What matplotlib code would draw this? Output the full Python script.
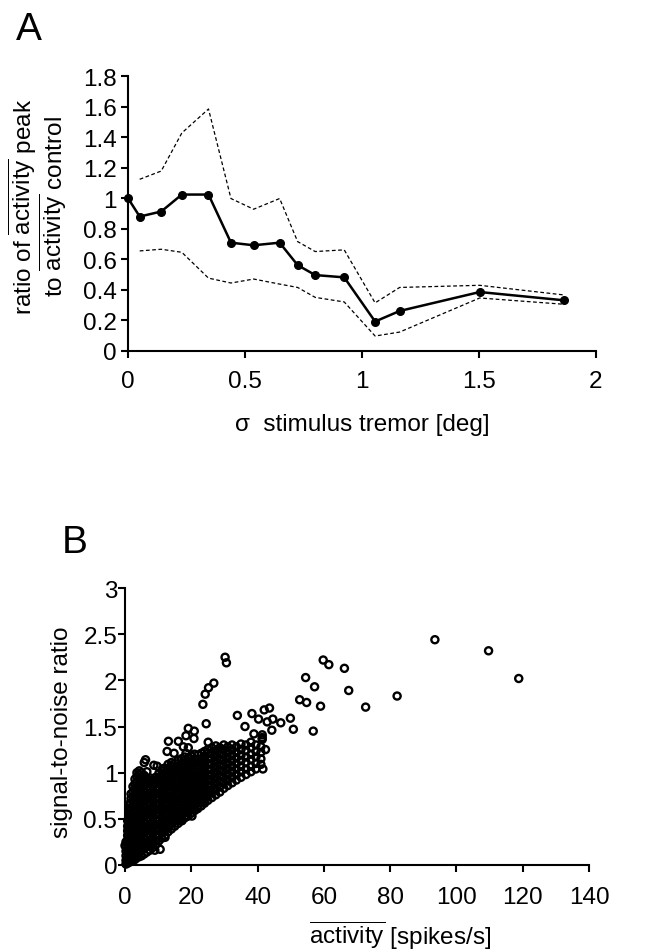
import numpy as np
import matplotlib
matplotlib.use("Agg")
import matplotlib.pyplot as plt

plt.rcParams['font.family'] = ['Liberation Sans', 'DejaVu Sans']
plt.rcParams['mathtext.fontset'] = 'custom'
plt.rcParams['mathtext.rm'] = 'Liberation Sans'
plt.rcParams['mathtext.it'] = 'Liberation Sans:italic'
plt.rcParams['mathtext.bf'] = 'Liberation Sans:bold'

# ---------------- Panel A data ----------------
sigma_mean = [0.0, 0.05, 0.142, 0.23, 0.344, 0.44, 0.537, 0.648, 0.725, 0.80, 0.924, 1.056, 1.161, 1.503, 1.862]
ratio_mean = [1.0, 0.88, 0.913, 1.024, 1.024, 0.709, 0.692, 0.709, 0.562, 0.497, 0.482, 0.193, 0.262, 0.386, 0.332]
sigma_ci = [0.05, 0.142, 0.23, 0.344, 0.44, 0.537, 0.648, 0.725, 0.80, 0.924, 1.056, 1.161, 1.503, 1.862]
ratio_upper = [1.124, 1.178, 1.427, 1.584, 0.998, 0.928, 0.998, 0.716, 0.651, 0.662, 0.315, 0.416, 0.43, 0.367]
ratio_lower = [0.655, 0.666, 0.646, 0.477, 0.445, 0.471, 0.438, 0.416, 0.351, 0.321, 0.098, 0.124, 0.347, 0.306]
a_xticks = [0, 0.5, 1, 1.5, 2]
a_xticklabels = ['0', '0.5', '1', '1.5', '2']
a_yticks = [0, 0.2, 0.4, 0.6, 0.8, 1.0, 1.2, 1.4, 1.6, 1.8]
a_yticklabels = ['0', '0.2', '0.4', '0.6', '0.8', '1', '1.2', '1.4', '1.6', '1.8']

# ---------------- Panel B data ----------------
# dense cloud, estimated column by column (activity value, list of SNR values)
cloud_x = [0.3, 0.8, 1.3, 1.8, 2.4, 3.0, 3.6, 4.3, 5.0, 5.8, 6.6, 7.5, 8.4, 9.3, 10.2, 11.1,
           12.0, 13.0, 14.0, 15.0, 16.0, 17.0, 18.0, 19.0, 20.0, 21.0, 22.0, 23.0, 24.0, 25.0,
           26.2, 27.4, 28.6, 29.8, 31.0, 32.3, 33.6, 35.0, 36.5, 38.0, 39.5, 41.0]
cloud_y = [
    [0.01, 0.05, 0.10, 0.15, 0.20, 0.25],
    [0.02, 0.07, 0.12, 0.17, 0.22, 0.27, 0.32, 0.37, 0.42, 0.48],
    [0.03, 0.08, 0.13, 0.18, 0.24, 0.29, 0.34, 0.39, 0.44, 0.50, 0.55, 0.60, 0.66],
    [0.04, 0.09, 0.14, 0.19, 0.25, 0.30, 0.35, 0.41, 0.46, 0.51, 0.56, 0.62, 0.67, 0.72, 0.77],
    [0.05, 0.10, 0.15, 0.21, 0.26, 0.31, 0.37, 0.42, 0.47, 0.53, 0.58, 0.63, 0.69, 0.74, 0.79, 0.85],
    [0.06, 0.11, 0.17, 0.22, 0.28, 0.33, 0.39, 0.44, 0.50, 0.55, 0.61, 0.66, 0.72, 0.77, 0.83, 0.88, 0.93],
    [0.08, 0.13, 0.19, 0.24, 0.30, 0.35, 0.41, 0.46, 0.52, 0.57, 0.63, 0.68, 0.74, 0.79, 0.85, 0.90, 0.96, 1.00],
    [0.09, 0.14, 0.20, 0.26, 0.31, 0.37, 0.42, 0.48, 0.54, 0.59, 0.65, 0.70, 0.76, 0.82, 0.87, 0.93, 0.98, 1.02],
    [0.10, 0.16, 0.21, 0.27, 0.33, 0.38, 0.44, 0.50, 0.55, 0.61, 0.67, 0.72, 0.78, 0.84, 0.89, 0.95, 1.00],
    [0.12, 0.18, 0.23, 0.29, 0.35, 0.40, 0.46, 0.52, 0.57, 0.63, 0.69, 0.74, 0.80, 0.86, 0.91, 0.97],
    [0.14, 0.20, 0.25, 0.31, 0.37, 0.42, 0.48, 0.54, 0.59, 0.65, 0.71, 0.76, 0.82, 0.88, 0.93],
    [0.16, 0.22, 0.27, 0.33, 0.39, 0.44, 0.50, 0.56, 0.61, 0.67, 0.73, 0.78, 0.84, 0.90],
    [0.19, 0.24, 0.30, 0.36, 0.41, 0.47, 0.53, 0.58, 0.64, 0.70, 0.75, 0.81, 0.87, 0.92],
    [0.22, 0.27, 0.33, 0.39, 0.44, 0.50, 0.56, 0.61, 0.67, 0.73, 0.78, 0.84, 0.90, 0.95],
    [0.26, 0.31, 0.37, 0.43, 0.48, 0.54, 0.60, 0.65, 0.71, 0.77, 0.82, 0.88, 0.94, 0.99],
    [0.29, 0.35, 0.40, 0.46, 0.52, 0.57, 0.63, 0.69, 0.74, 0.80, 0.86, 0.91, 0.97, 1.02],
    [0.32, 0.38, 0.44, 0.49, 0.55, 0.61, 0.66, 0.72, 0.78, 0.83, 0.89, 0.95, 1.00, 1.05],
    [0.36, 0.41, 0.47, 0.53, 0.58, 0.64, 0.70, 0.75, 0.81, 0.87, 0.92, 0.98, 1.04, 1.09],
    [0.39, 0.45, 0.50, 0.56, 0.62, 0.67, 0.73, 0.79, 0.84, 0.90, 0.96, 1.01, 1.07, 1.11],
    [0.42, 0.48, 0.53, 0.59, 0.65, 0.70, 0.76, 0.82, 0.87, 0.93, 0.99, 1.04, 1.10],
    [0.45, 0.51, 0.56, 0.62, 0.68, 0.73, 0.79, 0.85, 0.90, 0.96, 1.02, 1.07, 1.13],
    [0.48, 0.54, 0.59, 0.65, 0.71, 0.76, 0.82, 0.88, 0.93, 0.99, 1.05, 1.10, 1.15],
    [0.51, 0.56, 0.62, 0.68, 0.73, 0.79, 0.85, 0.90, 0.96, 1.02, 1.07, 1.13, 1.17],
    [0.53, 0.59, 0.65, 0.70, 0.76, 0.82, 0.87, 0.93, 0.99, 1.04, 1.10, 1.16],
    [0.56, 0.62, 0.67, 0.73, 0.79, 0.84, 0.90, 0.96, 1.01, 1.07, 1.13, 1.18],
    [0.59, 0.64, 0.70, 0.76, 0.81, 0.87, 0.93, 0.98, 1.04, 1.10, 1.15, 1.20],
    [0.62, 0.67, 0.73, 0.79, 0.84, 0.90, 0.96, 1.01, 1.07, 1.13, 1.19],
    [0.64, 0.70, 0.76, 0.81, 0.87, 0.93, 0.98, 1.04, 1.10, 1.15, 1.21],
    [0.67, 0.73, 0.78, 0.84, 0.90, 0.95, 1.01, 1.07, 1.12, 1.18, 1.23],
    [0.70, 0.76, 0.81, 0.87, 0.93, 0.98, 1.04, 1.10, 1.15, 1.21, 1.25],
    [0.73, 0.79, 0.85, 0.91, 0.97, 1.03, 1.09, 1.15, 1.21, 1.27],
    [0.76, 0.82, 0.88, 0.94, 1.00, 1.06, 1.12, 1.18, 1.24, 1.29],
    [0.79, 0.85, 0.91, 0.97, 1.03, 1.09, 1.15, 1.21, 1.27],
    [0.83, 0.89, 0.95, 1.01, 1.07, 1.13, 1.19, 1.25, 1.30],
    [0.86, 0.92, 0.98, 1.04, 1.10, 1.16, 1.22, 1.28],
    [0.89, 0.95, 1.01, 1.07, 1.13, 1.19, 1.25, 1.30],
    [0.92, 0.98, 1.04, 1.10, 1.16, 1.22, 1.28],
    [0.95, 1.01, 1.07, 1.13, 1.19, 1.25, 1.31],
    [0.98, 1.04, 1.11, 1.17, 1.24, 1.30],
    [1.01, 1.07, 1.14, 1.20, 1.27, 1.33],
    [1.04, 1.10, 1.17, 1.23, 1.30],
    [1.09, 1.15, 1.22, 1.28],
]
# individually readable cells
sparse_x = [93.5, 109.7, 118.8, 82.1, 72.6, 66.2, 67.5, 59.8, 61.5, 54.5, 57.2, 52.7, 54.8, 59.0,
            56.8, 49.9, 50.8, 47.0, 44.6, 43.6, 42.0, 42.9, 44.3, 40.3, 38.3, 33.9, 36.2, 38.9,
            41.4, 41.4, 41.4, 42.4, 41.6, 30.2, 30.6, 26.8, 25.2, 24.2, 23.5, 24.5, 19.1, 20.9,
            18.4, 20.8, 25.1, 13.1, 16.1, 17.6, 19.1, 12.7, 14.8, 18.4, 6.2, 5.8, 8.7, 9.7, 11.3,
            6.6, 9.9, 7.8, 21.9, 23.8, 18.8, 16.6, 9.0, 10.6, 12.1, 17.2, 20.2, 0.0]
sparse_y = [2.44, 2.32, 2.02, 1.83, 1.71, 2.13, 1.89, 2.22, 2.17, 2.03, 1.93, 1.79, 1.76, 1.72,
            1.45, 1.59, 1.47, 1.54, 1.58, 1.70, 1.68, 1.55, 1.46, 1.58, 1.64, 1.62, 1.50, 1.42,
            1.38, 1.41, 1.36, 1.25, 1.04, 2.25, 2.19, 1.97, 1.92, 1.85, 1.74, 1.53, 1.48, 1.45,
            1.40, 1.37, 1.33, 1.34, 1.34, 1.28, 1.27, 1.23, 1.21, 1.21, 1.14, 1.11, 1.08, 1.07, 1.04,
            1.01, 0.93, 0.94, 0.61, 0.69, 0.53, 0.49, 0.16, 0.17, 0.30, 0.48, 0.53, 0.21]
b_xticks = [0, 20, 40, 60, 80, 100, 120, 140]
b_yticks = [0, 0.5, 1.0, 1.5, 2.0, 2.5, 3.0]
b_yticklabels = ['0', '0.5', '1', '1.5', '2', '2.5', '3']

W, H = 658, 953
fig = plt.figure(figsize=(W / 100, H / 100), dpi=100)
fs = 17.5

def style(ax):
    for s in ('top', 'right'):
        ax.spines[s].set_visible(False)
    for s in ('left', 'bottom'):
        ax.spines[s].set_linewidth(1.5)

# ---------------- Panel A ----------------
axA = fig.add_axes([128 / W, 1 - 352 / H, 468 / W, 275 / H])
style(axA)
axA.plot(sigma_ci, ratio_upper, color='black', lw=0.9, ls=(0, (3, 2)))
axA.plot(sigma_ci, ratio_lower, color='black', lw=0.9, ls=(0, (3, 2)))
axA.plot(sigma_mean, ratio_mean, color='black', lw=1.8, marker='o', ms=5.5, clip_on=False)
axA.set_xlim(0, 2)
axA.set_ylim(0, 1.8)
axA.set_xticks(a_xticks)
axA.set_xticklabels(a_xticklabels)
axA.set_yticks(a_yticks)
axA.set_yticklabels(a_yticklabels)
axA.tick_params(axis='x', direction='out', length=5, width=1.5, labelsize=fs, pad=9)
axA.tick_params(axis='y', direction='out', length=5, width=1.5, labelsize=fs, pad=3)

fig.text(16 / W, 1 - 40 / H, 'A', fontsize=28, ha='left', va='baseline')
fig.text(23 / W, 1 - 207 / H, r'ratio of $\overline{\mathrm{activity}}$ peak', rotation=90,
         fontsize=fs, ha='center', va='center')
fig.text(53 / W, 1 - 207 / H, r'to $\overline{\mathrm{activity}}$ control', rotation=90,
         fontsize=fs, ha='center', va='center')
fig.text(362 / W, 1 - 425 / H, '\u03c3  stimulus tremor [deg]', fontsize=fs,
         ha='center', va='center')

# ---------------- Panel B ----------------
axB = fig.add_axes([125 / W, 1 - 866 / H, 464 / W, 277 / H])
style(axB)
px, py = [], []
for cx, ys in zip(cloud_x, cloud_y):
    for yv in ys:
        px.append(cx)
        py.append(yv)
axB.scatter(px, py, s=26, facecolors='none', edgecolors='black', linewidths=1.7, clip_on=False)
axB.scatter(sparse_x, sparse_y, s=26, facecolors='none', edgecolors='black', linewidths=1.7,
            clip_on=False)
axB.set_xlim(0, 140)
axB.set_ylim(0, 3)
axB.set_xticks(b_xticks)
axB.set_yticks(b_yticks)
axB.set_yticklabels(b_yticklabels)
axB.tick_params(axis='x', direction='out', length=5, width=1.5, labelsize=fs, pad=10)
axB.tick_params(axis='y', direction='out', length=5, width=1.5, labelsize=fs, pad=0.5)

fig.text(62 / W, 1 - 553 / H, 'B', fontsize=28, ha='left', va='baseline')
fig.text(62 / W, 1 - 732 / H, 'signal-to-noise ratio', rotation=90, fontsize=fs,
         ha='center', va='center')
fig.text(400 / W, 1 - 945 / H, r'$\overline{\mathrm{activity}}$ [spikes/s]', fontsize=fs,
         ha='center', va='baseline')

fig.savefig('out.png', dpi=100)
